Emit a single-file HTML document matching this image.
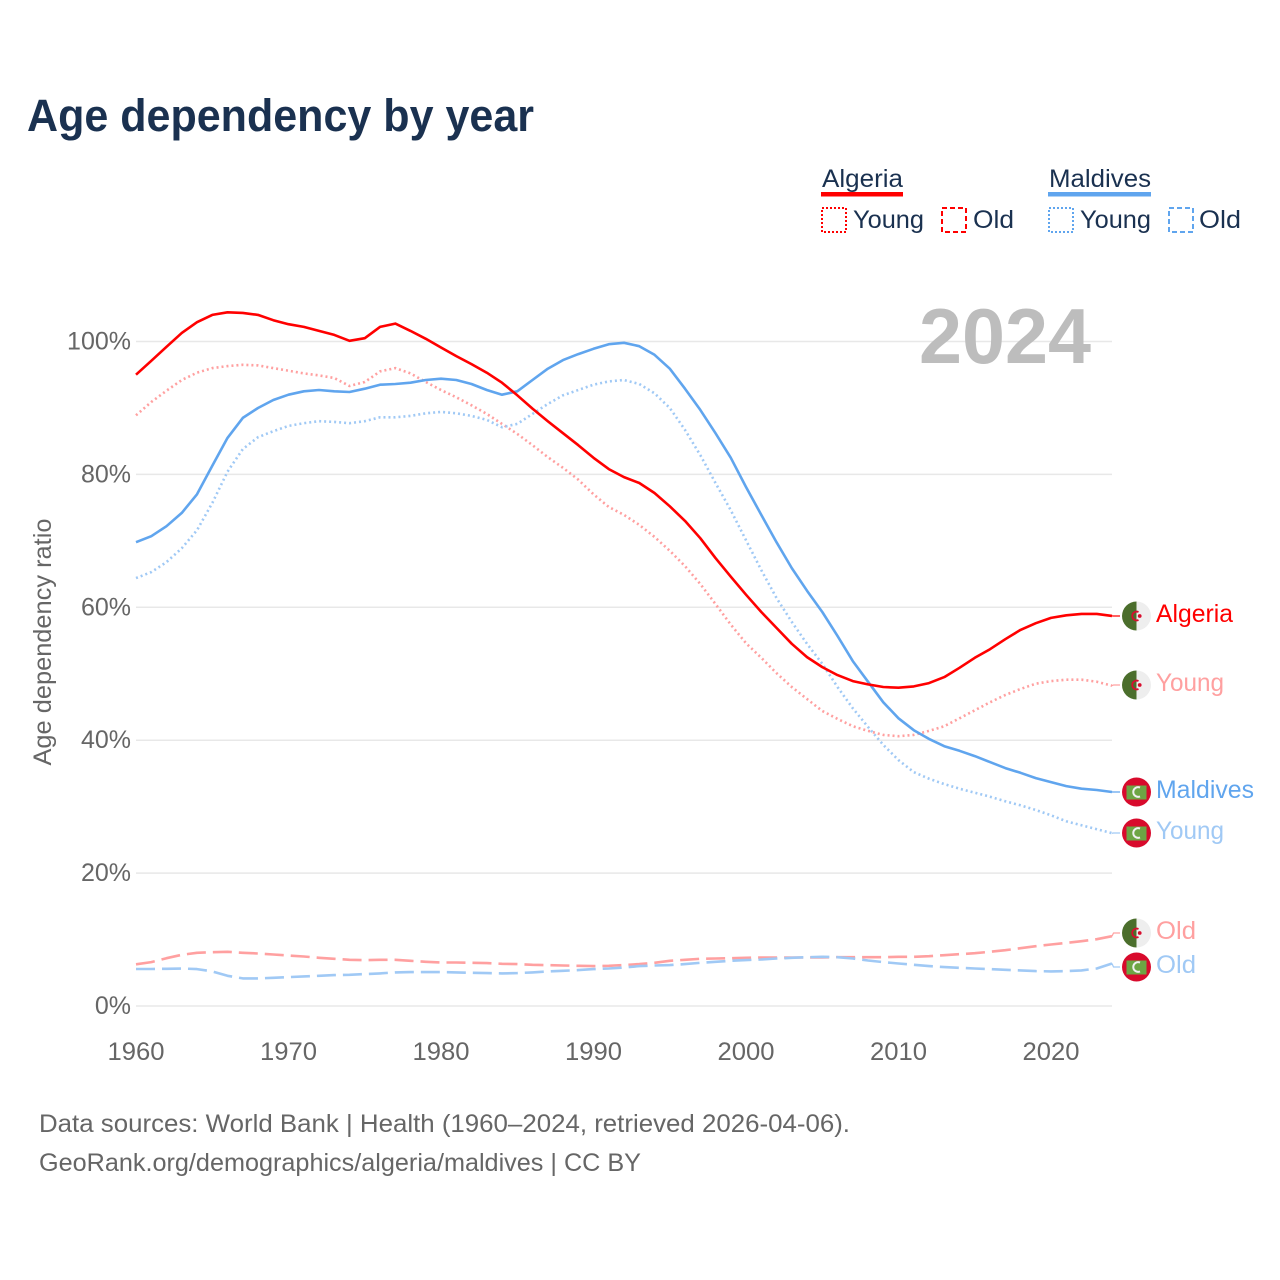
<!DOCTYPE html>
<html lang="en">
<head>
<meta charset="utf-8">
<title>Age dependency by year</title>
<style>
html,body{margin:0;padding:0;background:#fff;}
svg{display:block;font-family:"Liberation Sans",sans-serif;}
.series{fill:none;stroke-linejoin:round;}
</style>
</head>
<body>
<svg id="chart" xmlns="http://www.w3.org/2000/svg" width="1280" height="1280" viewBox="0 0 1280 1280">
  <defs>
    <clipPath id="flag-clip"><circle cx="0" cy="0" r="14.5"/></clipPath>
    <g id="flag-algeria" clip-path="url(#flag-clip)">
      <rect x="-15" y="-15" width="15" height="30" fill="#4b6e2c"/>
      <rect x="0" y="-15" width="15" height="30" fill="#eeeeee"/>
      <path d="M2,-4 A4.4,4.4 0 1 0 2,4" fill="none" stroke="#d80d2e" stroke-width="1.8"/>
      <circle cx="3.2" cy="0" r="1.9" fill="#d80d2e"/>
    </g>
    <g id="flag-maldives" clip-path="url(#flag-clip)">
      <rect x="-15" y="-15" width="30" height="30" fill="#d80a2c"/>
      <rect x="-10" y="-6.5" width="20" height="14" fill="#6da544"/>
      <path d="M3.5,-4.4 A4.8,4.8 0 1 0 3.5,4.4" fill="none" stroke="#f0f0f0" stroke-width="2"/>
    </g>
  </defs>

  <rect x="0" y="0" width="1280" height="1280" fill="#fff"/>

  <text x="27" y="131" font-size="45" font-weight="700" fill="#1a3150" textLength="507" lengthAdjust="spacingAndGlyphs">Age dependency by year</text>

  <g font-size="25" fill="#1a3150">
    <text x="822" y="187" textLength="81" lengthAdjust="spacingAndGlyphs">Algeria</text>
    <rect x="821" y="192" width="82" height="4.5" fill="#ff0000"/>
    <rect x="822" y="208" width="24" height="24" fill="none" stroke="#ff0000" stroke-width="2" stroke-dasharray="2 2"/>
    <text x="853" y="228" textLength="71" lengthAdjust="spacingAndGlyphs">Young</text>
    <rect x="942" y="208" width="24" height="24" fill="none" stroke="#ff0000" stroke-width="2" stroke-dasharray="5 3"/>
    <text x="973" y="228" textLength="41" lengthAdjust="spacingAndGlyphs">Old</text>

    <text x="1049" y="187" textLength="102" lengthAdjust="spacingAndGlyphs">Maldives</text>
    <rect x="1048" y="192" width="103" height="4.5" fill="#60a5ee"/>
    <rect x="1049" y="208" width="24" height="24" fill="none" stroke="#60a5ee" stroke-width="2" stroke-dasharray="2 2"/>
    <text x="1080" y="228" textLength="71" lengthAdjust="spacingAndGlyphs">Young</text>
    <rect x="1169" y="208" width="24" height="24" fill="none" stroke="#60a5ee" stroke-width="2" stroke-dasharray="5 3"/>
    <text x="1199" y="228" textLength="42" lengthAdjust="spacingAndGlyphs">Old</text>
  </g>

  <g id="grid"></g>
  <g id="yticks" font-size="25" fill="#666666" text-anchor="end"></g>
  <g id="xticks" font-size="25" fill="#666666" text-anchor="middle"></g>

  <text transform="translate(51,642) rotate(-90)" font-size="25" fill="#666666" text-anchor="middle" textLength="247" lengthAdjust="spacingAndGlyphs">Age dependency ratio</text>

  <text x="919" y="363" font-size="78" font-weight="700" fill="#bdbdbd" textLength="172" lengthAdjust="spacingAndGlyphs">2024</text>

  <g id="lines"></g>

  <g font-size="25">
    <use href="#flag-algeria" x="1136.5" y="616"/>
    <text x="1156" y="622" fill="#ff0000" textLength="77" lengthAdjust="spacingAndGlyphs">Algeria</text>
    <use href="#flag-algeria" x="1136.5" y="685"/>
    <text x="1156" y="691" fill="#ffa0a0" textLength="68" lengthAdjust="spacingAndGlyphs">Young</text>
    <use href="#flag-maldives" x="1136.5" y="792"/>
    <text x="1156" y="798" fill="#60a5ee" textLength="98" lengthAdjust="spacingAndGlyphs">Maldives</text>
    <use href="#flag-maldives" x="1136.5" y="833"/>
    <text x="1156" y="839" fill="#a0c9f5" textLength="68" lengthAdjust="spacingAndGlyphs">Young</text>
    <use href="#flag-algeria" x="1136.5" y="933"/>
    <text x="1156" y="939" fill="#ffa0a0" textLength="40" lengthAdjust="spacingAndGlyphs">Old</text>
    <use href="#flag-maldives" x="1136.5" y="967"/>
    <text x="1156" y="973" fill="#a0c9f5" textLength="40" lengthAdjust="spacingAndGlyphs">Old</text>
  </g>

  <g font-size="25" fill="#666666">
    <text x="39" y="1132" textLength="811" lengthAdjust="spacingAndGlyphs">Data sources: World Bank | Health (1960–2024, retrieved 2026-04-06).</text>
    <text x="39" y="1171" textLength="602" lengthAdjust="spacingAndGlyphs">GeoRank.org/demographics/algeria/maldives | CC BY</text>
  </g>
</svg>

<script>
const startYear = 1960;
const xTickLabels = ["1960","1970","1980","1990","2000","2010","2020"];
const yTickValues = [0,20,40,60,80,100];

const algeriaTotal = [95.0,97.1,99.2,101.3,102.9,104.0,104.4,104.3,104.0,103.2,102.6,102.2,101.6,101.0,100.1,100.5,102.2,102.7,101.6,100.4,99.1,97.8,96.6,95.3,93.8,91.9,89.9,88.0,86.2,84.4,82.5,80.8,79.6,78.7,77.2,75.2,73.0,70.4,67.4,64.6,61.9,59.3,56.9,54.5,52.5,51.0,49.8,48.9,48.4,48.0,47.9,48.1,48.6,49.5,50.9,52.4,53.7,55.2,56.6,57.6,58.4,58.8,59.0,59.0,58.7];
const algeriaYoung = [88.9,90.9,92.6,94.2,95.3,96.0,96.3,96.5,96.4,96.0,95.6,95.2,94.9,94.5,93.3,93.9,95.5,96.0,95.2,93.9,92.7,91.6,90.4,89.1,87.6,86.1,84.4,82.6,81.0,79.2,77.0,75.1,73.9,72.4,70.6,68.5,66.2,63.5,60.5,57.4,54.6,52.4,50.1,48.0,46.2,44.4,43.2,42.1,41.4,40.8,40.6,40.8,41.4,42.1,43.3,44.5,45.7,46.8,47.7,48.5,48.9,49.1,49.1,48.8,48.2];
const algeriaOld = [6.27,6.6,7.2,7.7,8.0,8.1,8.15,8.0,7.9,7.75,7.6,7.45,7.25,7.1,6.95,6.9,6.95,6.95,6.8,6.65,6.55,6.55,6.5,6.45,6.35,6.3,6.2,6.15,6.1,6.05,6.0,6.05,6.17,6.3,6.5,6.8,6.95,7.1,7.15,7.2,7.25,7.3,7.3,7.3,7.3,7.3,7.35,7.35,7.35,7.35,7.4,7.4,7.5,7.65,7.8,7.95,8.15,8.4,8.7,9.0,9.25,9.5,9.75,10.05,10.5];
const maldivesTotal = [69.8,70.7,72.2,74.2,77.0,81.3,85.5,88.5,90.0,91.2,92.0,92.5,92.7,92.5,92.4,92.9,93.5,93.6,93.8,94.2,94.4,94.2,93.6,92.7,92.0,92.5,94.2,95.9,97.2,98.1,98.9,99.6,99.8,99.3,98.0,95.9,92.9,89.7,86.2,82.5,78.1,73.9,69.8,65.9,62.5,59.3,55.7,51.9,48.8,45.7,43.3,41.5,40.2,39.1,38.4,37.6,36.7,35.8,35.1,34.3,33.7,33.1,32.7,32.5,32.2];
const maldivesYoung = [64.4,65.3,66.8,68.9,71.6,75.7,80.4,83.8,85.6,86.5,87.3,87.7,88.0,87.9,87.7,88.0,88.6,88.6,88.8,89.2,89.4,89.2,88.8,88.2,87.1,87.6,89.1,90.6,91.9,92.7,93.5,94.0,94.2,93.6,92.2,90.0,86.7,82.9,78.7,74.6,70.1,65.6,61.4,57.8,54.5,51.5,48.0,44.8,42.0,39.3,37.0,35.2,34.2,33.4,32.7,32.1,31.5,30.8,30.2,29.5,28.7,27.8,27.2,26.6,26.0];
const maldivesOld = [5.57,5.57,5.6,5.65,5.55,5.2,4.55,4.15,4.15,4.25,4.35,4.45,4.55,4.65,4.7,4.8,4.9,5.05,5.1,5.1,5.1,5.05,5.0,4.95,4.9,4.95,5.05,5.2,5.3,5.4,5.55,5.65,5.8,6.0,6.1,6.15,6.3,6.5,6.65,6.8,6.9,7.0,7.15,7.25,7.35,7.4,7.35,7.15,6.85,6.6,6.4,6.2,6.0,5.85,5.75,5.65,5.55,5.45,5.35,5.25,5.2,5.25,5.35,5.65,6.4];

const SVG_NS = "http://www.w3.org/2000/svg";
function xScale(year){ return 136 + (year - 1960) * 15.25; }
function yScale(value){ return 1006 - value * 6.645; }
function make(tag, parent){
  const node = document.createElementNS(SVG_NS, tag);
  parent.appendChild(node);
  return node;
}

const gridGroup = document.getElementById("grid");
const yTickGroup = document.getElementById("yticks");
const xTickGroup = document.getElementById("xticks");
const lineGroup = document.getElementById("lines");

yTickValues.forEach(function(value){
  const gridLine = make("line", gridGroup);
  
  
  gridLine.setAttribute("x1", xScale(1960));
  gridLine.setAttribute("x2", xScale(2024));
  gridLine.setAttribute("y1", yScale(value));
  gridLine.setAttribute("y2", yScale(value));
  gridLine.setAttribute("stroke", "#e8e8e8");
  gridLine.setAttribute("stroke-width", "1.5");
  const label = make("text", yTickGroup);
  
  
  label.setAttribute("x", 131);
  label.setAttribute("y", yScale(value) + 8);
  label.setAttribute("font-size", "25");
  label.textContent = value + "%";
});

xTickLabels.forEach(function(text){
  const label = make("text", xTickGroup);
  
  
  label.setAttribute("x", xScale(Number(text)));
  label.setAttribute("y", 1060);
  label.setAttribute("textLength", "57");
  label.setAttribute("lengthAdjust", "spacingAndGlyphs");
  label.textContent = text;
});

function drawSeries(values, color, dash, labelY, seriesName){
  const pts = values.map(function(v, i){
    return xScale(startYear + i).toFixed(1) + "," + yScale(v).toFixed(1);
  });
  const path = make("polyline", lineGroup);
  
  
  path.setAttribute("class", "series");
  path.setAttribute("points", pts.join(" "));
  path.setAttribute("stroke", color);
  path.setAttribute("stroke-width", "2.6");
  if (dash) path.setAttribute("stroke-dasharray", dash);

  const endX = xScale(startYear + values.length - 1);
  const endY = yScale(values[values.length - 1]);
  const leader = make("polyline", lineGroup);
  
  
  leader.setAttribute("class", "series");
  leader.setAttribute("points", endX + "," + endY + " " + (endX + 1.5) + "," + labelY + " 1120," + labelY);
  leader.setAttribute("stroke", color);
  leader.setAttribute("stroke-width", "1.2");
}

const dotted = "2 3";
const dashed = "19 7";
drawSeries(algeriaOld, "#ffa0a0", dashed, 933, "line-algeria-old");
drawSeries(maldivesOld, "#a0c9f5", dashed, 967, "line-maldives-old");
drawSeries(algeriaYoung, "#ffa0a0", dotted, 685, "line-algeria-young");
drawSeries(maldivesYoung, "#a0c9f5", dotted, 833, "line-maldives-young");
drawSeries(maldivesTotal, "#60a5ee", null, 792, "line-maldives-total");
drawSeries(algeriaTotal, "#ff0000", null, 616, "line-algeria-total");
</script>
</body>
</html>
